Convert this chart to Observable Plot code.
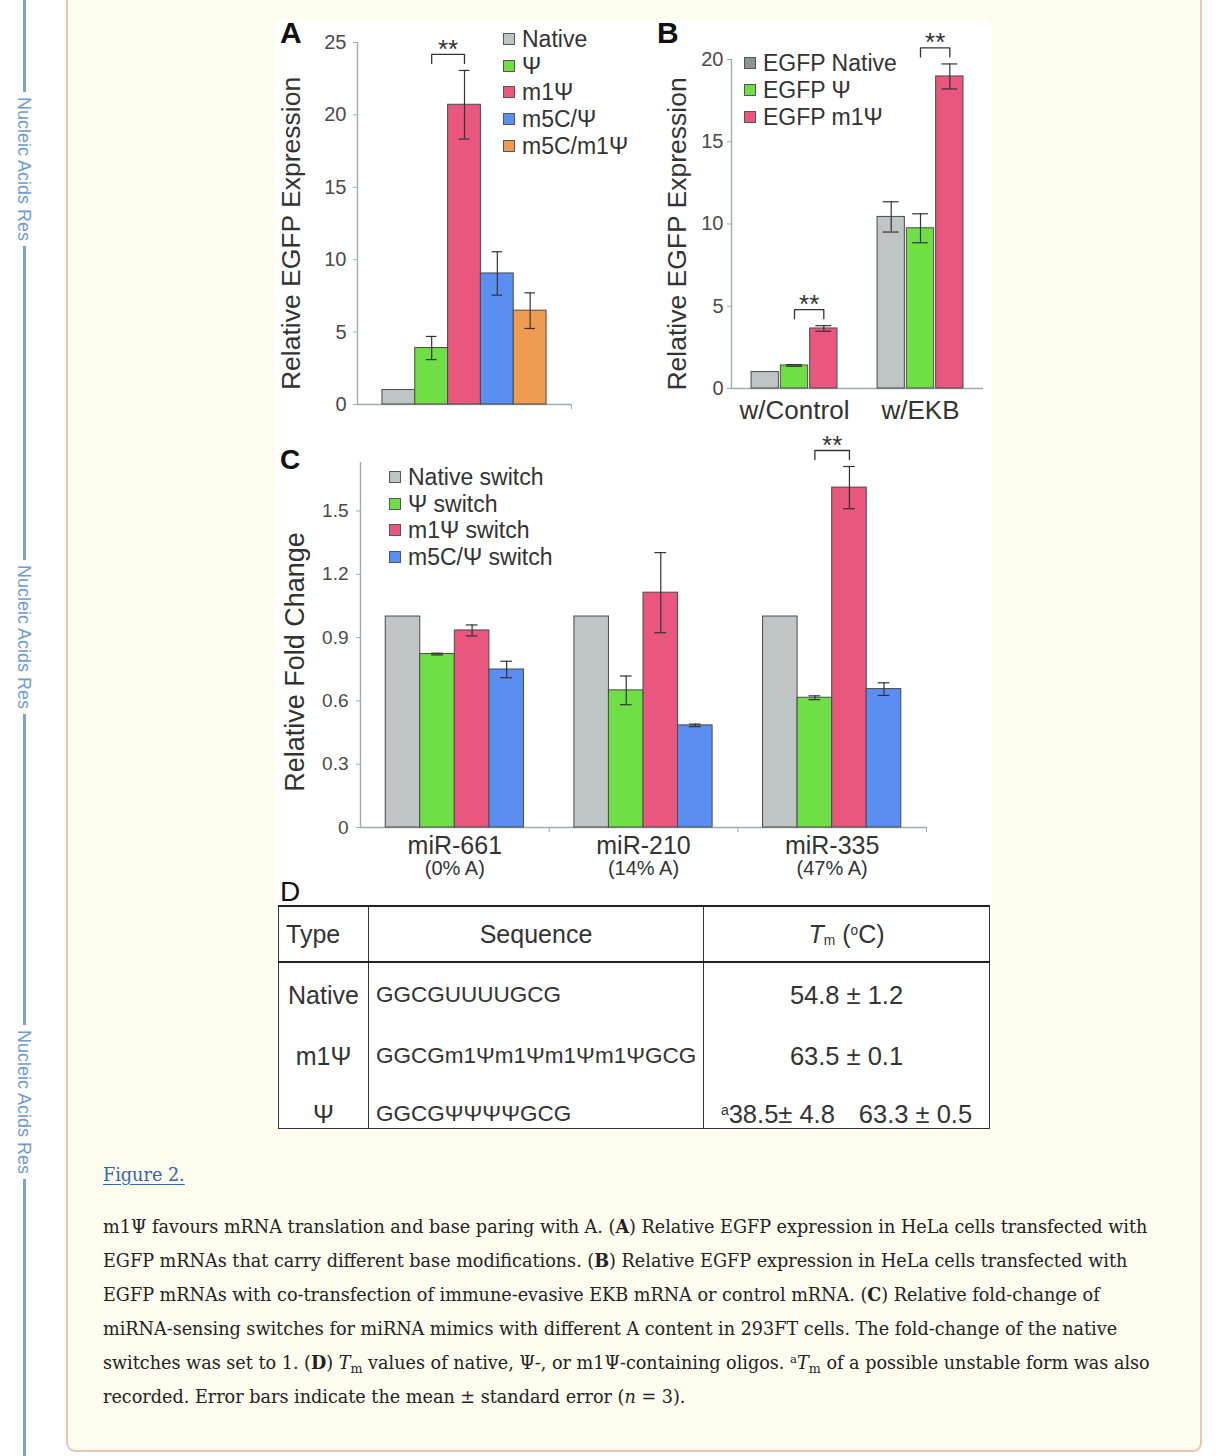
<!DOCTYPE html>
<html lang="en">
<head>
<meta charset="utf-8">
<title>Figure 2</title>
<script src="https://cdn.jsdelivr.net/npm/d3@7"></script>
<script src="https://cdn.jsdelivr.net/npm/@observablehq/plot@0.6"></script>
<style>
  html, body { margin: 0; padding: 0; background: #ffffff; }
  body { width: 1230px; height: 1456px; position: relative; overflow: hidden;
         font-family: "Liberation Sans", Arial, Helvetica, sans-serif; }
  .abs { position: absolute; }
  #rail { left: 22.5px; top: 0; width: 3px; height: 1456px; background: #7ba4d6; }
  .railtext { position: absolute; writing-mode: vertical-rl; color: #6f9bd1; font-size: 18px;
              line-height: 20px; background: #fff; padding: 5px 0; left: 14px; white-space: nowrap; }
  #card { left: 66px; top: -12px; width: 1132px; height: 1460px; border: 2px solid #e7c7b4;
          border-radius: 9px; background: #fefbef; }
  #figure { left: 275px; top: 19px; width: 717px; height: 1112px; background: #fff; border-radius: 8px; }
  .letter { position: absolute; line-height: 1; color: #111; }
  .legend-item { position: absolute; height: 26px; display: flex; align-items: center; font-size: 23px;
                 line-height: 26px; color: #333; white-space: nowrap; }
  .legend-item .sw { width: 10px; height: 10px; border: 1.5px solid #555; margin-right: 7px; flex: none; }
  #tbl { position: absolute; left: 278px; top: 905px; width: 711px; border-collapse: collapse;
         table-layout: fixed; color: #333; }
  #tbl td, #tbl th { padding: 0; font-weight: normal; }
  #tbl th { height: 54px; vertical-align: middle; font-size: 25px; border-bottom: 2.5px solid #222; }
  #tbl td { vertical-align: bottom; line-height: 28px; }
  #tbl .c1 { border-right: 1px solid #333; text-align: center; font-size: 25px; }
  #tbl .c2 { border-right: 1px solid #333; text-align: left; padding-left: 7px; font-size: 22.5px; }
  #tbl .c3 { text-align: center; font-size: 25.5px; }
  #tbl sub { font-size: 0.55em; vertical-align: -0.15em; line-height: 0; }
  #tbl sup { font-size: 0.55em; vertical-align: 0.55em; line-height: 0; }
  #caption { left: 103px; top: 1158px; font-family: "DejaVu Serif", "Liberation Serif", serif; color: #222; }
  #caption .line { white-space: nowrap; height: 34px; line-height: 34px; }
  #caption sub { font-size: 0.72em; vertical-align: -0.3em; line-height: 0; }
  #caption sup { font-size: 0.66em; vertical-align: 0.55em; line-height: 0; }
  #figlink { color: #3465ad; text-decoration: underline; text-underline-offset: 3px; }
</style>
</head>
<body>
<div id="rail" class="abs"></div>
<div id="card" class="abs"></div>
<div id="figure" class="abs"></div>
<div id="charts"></div>
<div id="caption" class="abs"></div>

<script>
// ---------------- DATA ----------------
const railLabel = "Nucleic Acids Res";

// Panel A
const aSeries = ["Native", "Ψ", "m1Ψ", "m5C/Ψ", "m5C/m1Ψ"];
const aMean = [1.0, 3.9, 20.7, 9.05, 6.48];
const aErr = [0, 0.8, 2.37, 1.5, 1.23];
const aTicks = [0, 5, 10, 15, 20, 25];
const aTitle = "Relative EGFP Expression";
const aSig = [[1, 2]];

// Panel B
const bGroups = ["w/Control", "w/EKB"];
const bSeries = ["EGFP Native", "EGFP Ψ", "EGFP m1Ψ"];
const bMean = [[1.0, 1.4, 3.65], [10.43, 9.74, 18.97]];
const bErr = [[0, 0.05, 0.17], [0.92, 0.88, 0.76]];
const bTicks = [0, 5, 10, 15, 20];
const bTitle = "Relative EGFP Expression";
const bSig = [[0, 1, 2], [1, 1, 2]];

// Panel C
const cGroups = ["miR-661", "miR-210", "miR-335"];
const cSub = ["(0% A)", "(14% A)", "(47% A)"];
const cSeries = ["Native switch", "Ψ switch", "m1Ψ switch", "m5C/Ψ switch"];
const cMean = [[1.0, 0.822, 0.934, 0.749], [1.0, 0.650, 1.113, 0.484], [1.0, 0.615, 1.611, 0.656]];
const cErr = [[0, 0.004, 0.026, 0.039], [0, 0.068, 0.19, 0.006], [0, 0.009, 0.10, 0.03]];
const cTicks = [0, 0.3, 0.6, 0.9, 1.2, 1.5];
const cTitle = "Relative Fold Change";
const cSig = [[2, 1, 2]];

// Panel D (table)
const dTypes = ["Native", "m1Ψ", "Ψ"];
const dSeqs = ["GGCGUUUUGCG", "GGCGm1Ψm1Ψm1Ψm1ΨGCG", "GGCGΨΨΨΨGCG"];
const dTm = [["54.8 ± 1.2"], ["63.5 ± 0.1"], ["38.5± 4.8", "63.3 ± 0.5"]];

// Caption
const figLabel = "Figure 2.";
const captionLines = [
  "m1Ψ favours mRNA translation and base paring with A. (<b>A</b>) Relative EGFP expression in HeLa cells transfected with",
  "EGFP mRNAs that carry different base modifications. (<b>B</b>) Relative EGFP expression in HeLa cells transfected with",
  "EGFP mRNAs with co-transfection of immune-evasive EKB mRNA or control mRNA. (<b>C</b>) Relative fold-change of",
  "miRNA-sensing switches for miRNA mimics with different A content in 293FT cells. The fold-change of the native",
  "switches was set to 1. (<b>D</b>) <i>T</i><sub>m</sub> values of native, Ψ-, or m1Ψ-containing oligos. <sup>a</sup><i>T</i><sub>m</sub> of a possible unstable form was also",
  "recorded. Error bars indicate the mean ± standard error (<i>n</i> = 3)."
];

// ---------------- STYLE ----------------
const FONT = '"Liberation Sans", Arial, Helvetica, sans-serif';
const AXIS = "#9dadad";
const INK = "#333333";
const TICKTXT = "#4a4a4a";
const BAR_STROKE = "#4a4a4a";
const COL = { native: "#bfc5c4", psi: "#6fdf45", m1: "#e9567e", m5: "#5b8ef1", m5m1: "#f09b52" };

// ---------------- HELPERS ----------------
const charts = document.getElementById("charts");
function place(node, left, top) {
  const d = document.createElement("div");
  d.className = "abs";
  d.style.left = left + "px";
  d.style.top = top + "px";
  d.appendChild(node);
  charts.appendChild(d);
}
function letter(t, left, top, size, bold) {
  const d = document.createElement("div");
  d.className = "letter";
  d.textContent = t;
  d.style.left = left + "px";
  d.style.top = top + "px";
  d.style.fontSize = size + "px";
  d.style.fontWeight = bold ? "bold" : "normal";
  charts.appendChild(d);
}
function legend(items, colors, left, top0, step) {
  items.forEach((t, i) => {
    const d = document.createElement("div");
    d.className = "legend-item";
    d.style.left = left + "px";
    d.style.top = (top0 + i * step - 13) + "px";
    const sw = document.createElement("span");
    sw.className = "sw";
    sw.style.background = colors[i];
    d.appendChild(sw);
    d.appendChild(document.createTextNode(t));
    charts.appendChild(d);
  });
}

function panel(cfg) {
  const plotH = cfg.height - cfg.mT - cfg.mB;
  const k = plotH / cfg.yMax; // px per data unit
  const marks = [
    Plot.ruleY([0], {stroke: AXIS, strokeWidth: 1.4}),
    Plot.ruleX([0], {y1: () => 0, y2: () => cfg.yMax, stroke: AXIS, strokeWidth: 1.4}),
    Plot.axisY({ticks: cfg.ticks, tickFormat: cfg.tickFormat, tickSize: cfg.tickSize, tickPadding: cfg.tickPadding,
                fontSize: cfg.tickFont, stroke: AXIS, fill: TICKTXT, label: null})
  ];
  if (cfg.xTicks) marks.push(Plot.axisX({ticks: cfg.xTicks, tickFormat: () => "", tickSize: 5, stroke: AXIS, label: null}));
  marks.push(Plot.rect(cfg.rows, {
    x1: "x1", x2: d => d.x1 + 1, y1: () => 0, y2: "v", fill: "series",
    stroke: BAR_STROKE, strokeWidth: 1, insetLeft: cfg.inset, insetRight: cfg.inset
  }));
  const eb = cfg.rows.filter(d => d.e > 0);
  marks.push(Plot.ruleX(eb, {x: d => d.x1 + 0.5, y1: d => d.v - d.e, y2: d => d.v + d.e, stroke: INK, strokeWidth: 1.2}));
  for (const s of [-1, 1]) {
    marks.push(Plot.ruleY(eb, {x1: d => d.x1 + 0.5 - cfg.cap, x2: d => d.x1 + 0.5 + cfg.cap,
                               y: d => d.v + s * d.e, stroke: INK, strokeWidth: 1.2}));
  }
  // significance brackets
  const pts = [], stars = [];
  cfg.sig.forEach((p, id) => {
    const a = p[0], b = p[1];
    const top = Math.max(a.v + a.e, b.v + b.e);
    const xa = a.x1 + 0.5, xb = b.x1 + 0.5;
    const hi = top + 16 / k, lo = top + 7 / k;
    pts.push({id, x: xa, y: lo}, {id, x: xa, y: hi}, {id, x: xb, y: hi}, {id, x: xb, y: lo});
    stars.push({x: (xa + xb) / 2, y: top});
  });
  marks.push(Plot.line(pts, {x: "x", y: "y", z: "id", stroke: INK, strokeWidth: 1.3}));
  marks.push(Plot.text(stars, {x: "x", y: "y", text: () => "**", dy: -21, fontSize: 26, fill: INK}));
  // y title
  marks.push(Plot.text([cfg.title], {frameAnchor: "left", textAnchor: "middle", lineAnchor: "middle",
                                     rotate: -90, dx: cfg.tDx, dy: cfg.tDy,
                                     fontSize: cfg.tFont, fill: INK, text: d => d}));
  // group labels
  if (cfg.groups) {
    marks.push(Plot.text(cfg.groups, {x: (d, i) => i * cfg.G + cfg.G / 2, frameAnchor: "bottom", lineAnchor: "middle",
                                      dy: cfg.gDy, fontSize: cfg.gFont, fill: INK, text: d => d}));
  }
  if (cfg.subs) {
    marks.push(Plot.text(cfg.subs, {x: (d, i) => i * cfg.G + cfg.G / 2, frameAnchor: "bottom", lineAnchor: "middle",
                                    dy: cfg.sDy, fontSize: 20, fill: INK, text: d => d}));
  }
  const xOpt = {domain: [0, cfg.xMax], label: null};
  if (!cfg.xTicks) xOpt.axis = null;
  return Plot.plot({
    width: cfg.width, height: cfg.height,
    marginLeft: cfg.mL, marginRight: cfg.mR, marginTop: cfg.mT, marginBottom: cfg.mB,
    x: xOpt,
    y: {domain: [0, cfg.yMax], label: null},
    color: {domain: cfg.series, range: cfg.colors},
    style: {fontFamily: FONT, background: "transparent", overflow: "visible", color: INK},
    marks
  });
}

// ---------------- PANEL A ----------------
const padA = 0.76;
const aRows = aSeries.map((s, i) => ({series: s, x1: padA + i, v: aMean[i], e: aErr[i]}));
const aXMax = aSeries.length + 2 * padA;
place(panel({
  width: 360, height: 400, mL: 82, mR: 64, mT: 23, mB: 15,
  yMax: 25, ticks: aTicks, tickFormat: d => String(d), tickSize: 4, tickPadding: 7, tickFont: 20,
  xMax: aXMax, xTicks: [aXMax], rows: aRows, inset: 0, cap: 0.16,
  series: aSeries, colors: [COL.native, COL.psi, COL.m1, COL.m5, COL.m5m1],
  sig: aSig.map(([i, j]) => [aRows[i], aRows[j]]),
  title: aTitle, tDx: -66, tDy: 10, tFont: 26.5
}), 275, 19);

// ---------------- PANEL B ----------------
const padB = 0.65, GB = bSeries.length + 2 * padB;
const bRows = bGroups.flatMap((g, gi) => bSeries.map((s, si) => ({
  group: g, series: s, x1: gi * GB + padB + si, v: bMean[gi][si], e: bErr[gi][si]
})));
const bRow = (g, s) => bRows[g * bSeries.length + s];
place(panel({
  width: 352, height: 420, mL: 91, mR: 9, mT: 40, mB: 51,
  yMax: 20, ticks: bTicks, tickFormat: d => String(d), tickSize: 4, tickPadding: 4, tickFont: 20,
  xMax: bGroups.length * GB, xTicks: null, rows: bRows, inset: 1, cap: 0.27,
  series: bSeries, colors: [COL.native, COL.psi, COL.m1],
  sig: bSig.map(([g, i, j]) => [bRow(g, i), bRow(g, j)]),
  title: bTitle, tDx: -54, tDy: 10, tFont: 26.5,
  groups: bGroups, G: GB, gDy: 22, gFont: 26
}), 640, 19);

// ---------------- PANEL C ----------------
const padC = 0.73, GC = cSeries.length + 2 * padC;
const cRows = cGroups.flatMap((g, gi) => cSeries.map((s, si) => ({
  group: g, series: s, x1: gi * GC + padC + si, v: cMean[gi][si], e: cErr[gi][si]
})));
const cRow = (g, s) => cRows[g * cSeries.length + s];
place(panel({
  width: 717, height: 460, mL: 85, mR: 66, mT: 32, mB: 63,
  yMax: 1.73, ticks: cTicks, tickFormat: d => (d === 0 ? "0" : d.toFixed(1)), tickSize: 4, tickPadding: 8, tickFont: 19,
  xMax: cGroups.length * GC, xTicks: cGroups.map((g, i) => (i + 1) * GC), rows: cRows, inset: 0, cap: 0.17,
  series: cSeries, colors: [COL.native, COL.psi, COL.m1, COL.m5],
  sig: cSig.map(([g, i, j]) => [cRow(g, i), cRow(g, j)]),
  title: cTitle, tDx: -65, tDy: 17, tFont: 27,
  groups: cGroups, subs: cSub, G: GC, gDy: 18, sDy: 41, gFont: 25
}), 275, 430);

// ---------------- LETTERS & LEGENDS ----------------
letter("A", 280, 18, 30, true);
letter("B", 657, 18, 30, true);
letter("C", 280, 446, 28, true);
letter("D", 280, 878, 28, false);

legend(aSeries, [COL.native, COL.psi, COL.m1, COL.m5, COL.m5m1], 503, 39, 26.7);
legend(bSeries, ["#8e9393", COL.psi, COL.m1], 744, 63, 27);
legend(cSeries, [COL.native, COL.psi, COL.m1, COL.m5], 389, 477, 26.7);

// ---------------- TABLE D ----------------
(function buildTable() {
  const t = document.createElement("table");
  t.id = "tbl";
  t.style.borderTop = "2px solid #222";
  t.style.borderLeft = "1.5px solid #333";
  t.style.borderRight = "1.5px solid #333";
  t.style.borderBottom = "1.5px solid #333";
  const cg = document.createElement("colgroup");
  [90, 335, 286].forEach(w => { const c = document.createElement("col"); c.style.width = w + "px"; cg.appendChild(c); });
  t.appendChild(cg);
  const hr = document.createElement("tr");
  const h1 = document.createElement("th"); h1.className = "c1"; h1.style.textAlign = "left"; h1.style.paddingLeft = "7px"; h1.textContent = "Type";
  const h2 = document.createElement("th"); h2.className = "c2"; h2.style.textAlign = "center"; h2.style.paddingLeft = "0"; h2.style.fontSize = "25px"; h2.textContent = "Sequence";
  const h3 = document.createElement("th"); h3.className = "c3"; h3.style.fontSize = "25px";
  h3.innerHTML = "<i>T</i><sub>m</sub> (<sup>o</sup>C)";
  [h1, h2, h3].forEach(h => hr.appendChild(h));
  t.appendChild(hr);
  const rowH = [47, 61, 58];
  dTypes.forEach((ty, i) => {
    const tr = document.createElement("tr");
    tr.style.height = rowH[i] + "px";
    const a = document.createElement("td"); a.className = "c1"; a.textContent = ty;
    const b = document.createElement("td"); b.className = "c2"; b.textContent = dSeqs[i];
    const c = document.createElement("td"); c.className = "c3";
    if (dTm[i].length > 1) {
      c.innerHTML = "<sup>a</sup>" + dTm[i][0] + '<span style="margin-left:24px">' + dTm[i][1] + "</span>";
    } else {
      c.textContent = dTm[i][0];
    }
    [a, b, c].forEach(x => tr.appendChild(x));
    t.appendChild(tr);
  });
  charts.appendChild(t);
})();

// ---------------- RAIL LABELS ----------------
[92, 560, 1025].forEach(top => {
  const d = document.createElement("div");
  d.className = "railtext";
  d.style.top = top + "px";
  d.textContent = railLabel;
  document.body.appendChild(d);
});

// ---------------- CAPTION ----------------
(function buildCaption() {
  const cap = document.getElementById("caption");
  const f = document.createElement("div");
  f.className = "line";
  f.innerHTML = '<span id="figlink">' + figLabel + "</span>";
  f.style.marginBottom = "18px";
  cap.appendChild(f);
  const spans = [];
  captionLines.forEach(l => {
    const d = document.createElement("div");
    d.className = "line";
    const s = document.createElement("span");
    s.innerHTML = l;
    d.appendChild(s);
    cap.appendChild(d);
    spans.push(s);
  });
  // fit font size so the first line spans its measured width
  cap.style.fontSize = "18px";
  const w = spans[0].getBoundingClientRect().width;
  const fs = 18 * 1045 / w;
  cap.style.fontSize = fs.toFixed(2) + "px";
})();
</script>
</body>
</html>
